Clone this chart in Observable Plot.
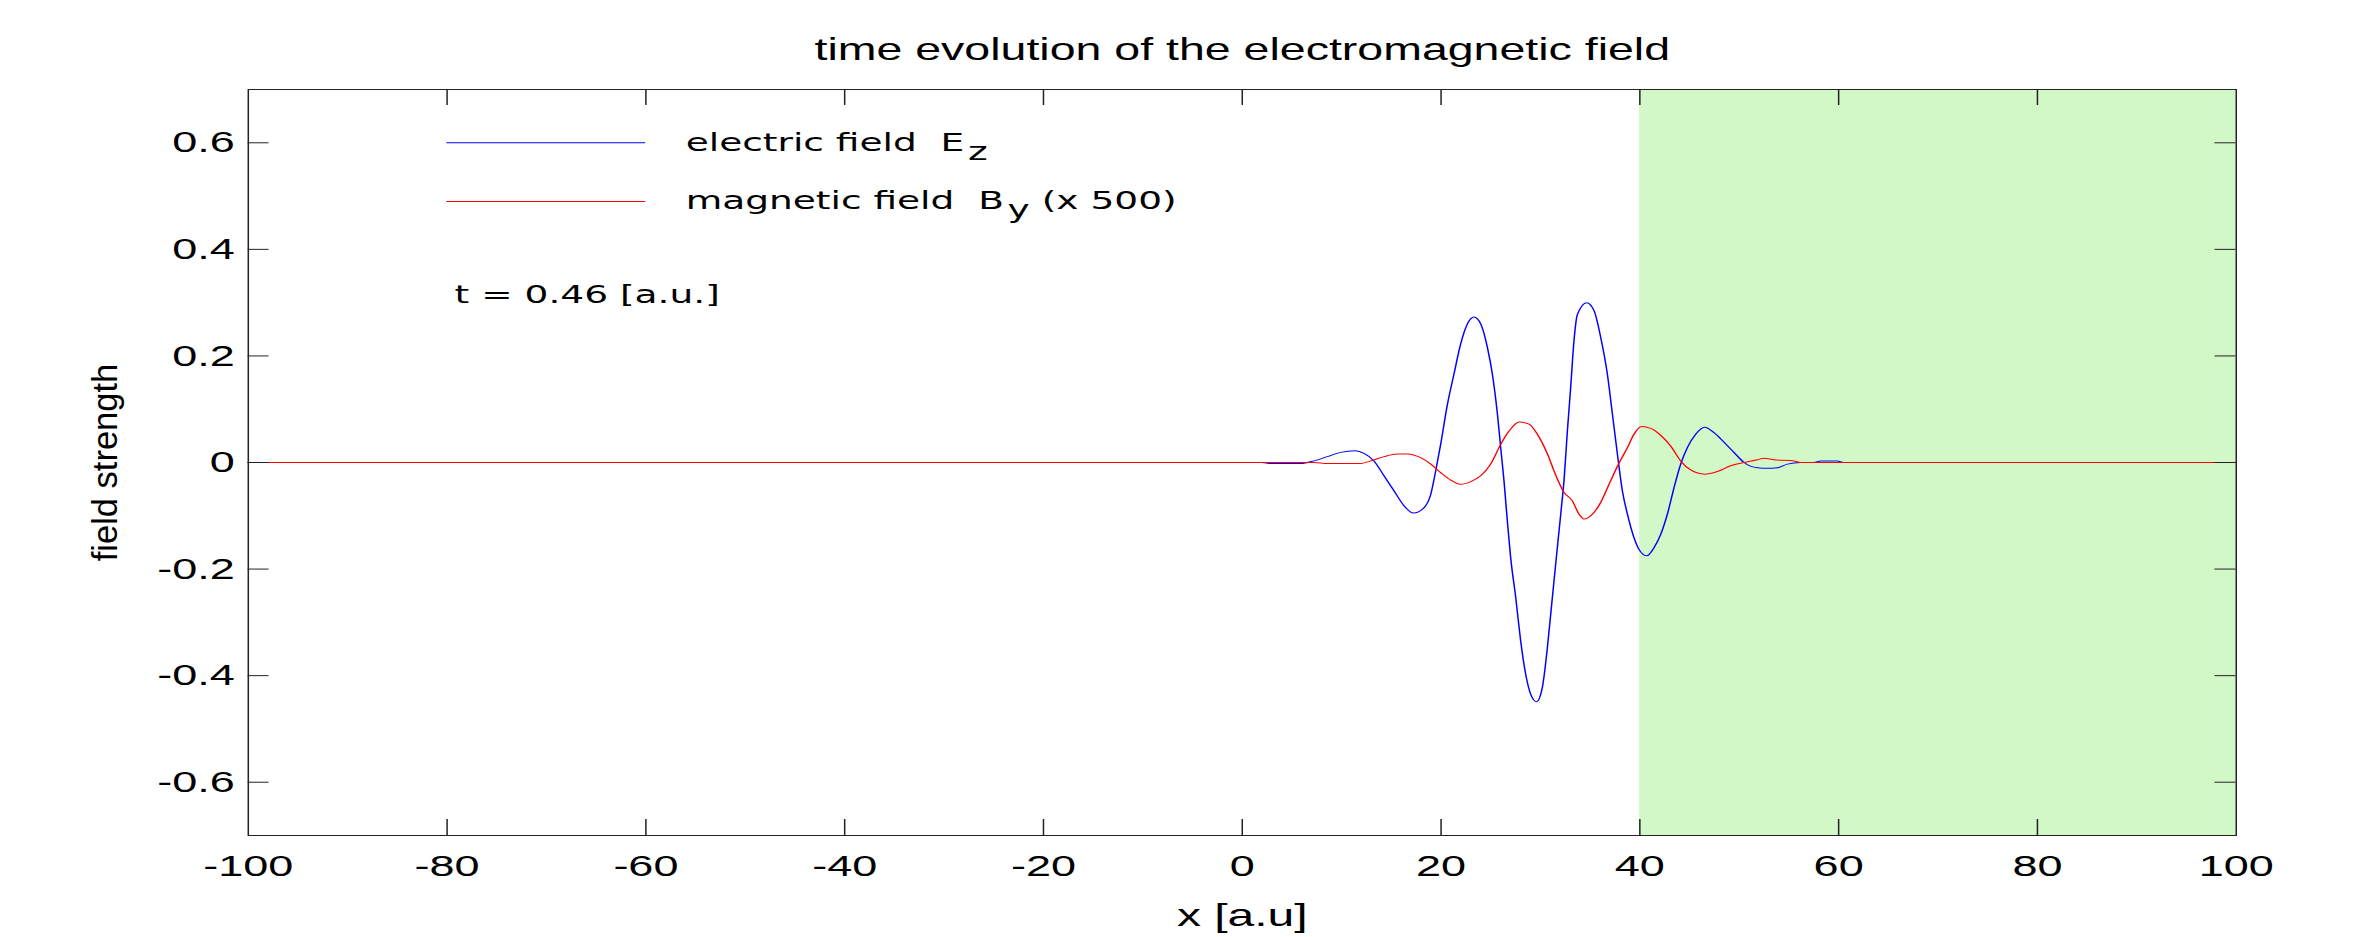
<!DOCTYPE html>
<html>
<head>
<meta charset="utf-8">
<script src="https://cdn.jsdelivr.net/npm/d3@7"></script>
<script src="https://cdn.jsdelivr.net/npm/@observablehq/plot@0.6"></script>
<style>
  html, body { margin: 0; padding: 0; background: #fff; }
  #chart svg { display: block; }
</style>
</head>
<body>
<div id="chart"></div>
<script>
// ---- data ----
const xE = [-100, 2.0, 2.86, 5.88, 7.22, 8.56, 9.90, 11.41, 12.25, 13.25, 14.26, 15.26, 16.27, 17.21, 18.28, 18.96, 19.46, 19.96, 20.64, 21.30, 21.97, 22.65, 23.31, 23.99, 24.66, 25.16, 25.67, 26.00, 26.33, 26.67, 27.00, 27.51, 28.01, 28.51, 29.02, 29.62, 30.19, 30.70, 31.03, 31.53, 32.04, 32.37, 32.71, 33.04, 33.37, 33.72, 34.65, 35.39, 36.06, 36.73, 37.24, 37.74, 38.24, 38.75, 39.41, 39.91, 40.69, 41.42, 42.10, 42.77, 43.44, 44.11, 44.78, 45.62, 46.52, 47.46, 48.47, 49.47, 50.48, 51.83, 52.83, 53.84, 54.84, 56.18, 57.5, 58.2, 59.87, 60.5, 100];
const ez = [0, 0, -0.002, -0.002, 0.003, 0.011, 0.019, 0.022, 0.017, 0.003, -0.025, -0.053, -0.081, -0.095, -0.085, -0.060, -0.016, 0.034, 0.109, 0.166, 0.222, 0.260, 0.273, 0.260, 0.216, 0.166, 0.091, 0.028, -0.034, -0.110, -0.178, -0.253, -0.335, -0.397, -0.435, -0.449, -0.422, -0.347, -0.285, -0.191, -0.097, -0.034, 0.059, 0.141, 0.228, 0.278, 0.300, 0.285, 0.235, 0.166, 0.091, 0.016, -0.053, -0.097, -0.141, -0.163, -0.175, -0.160, -0.135, -0.097, -0.047, -0.003, 0.028, 0.053, 0.066, 0.056, 0.038, 0.019, 0.000, -0.010, -0.011, -0.010, -0.003, 0, 0, 0.003, 0.003, 0, 0];

const xB = [-100, 7.22, 8.56, 11.92, 12.92, 14.26, 15.60, 16.61, 17.95, 18.96, 19.96, 20.97, 21.97, 22.98, 23.99, 24.99, 26.00, 26.84, 27.85, 28.85, 29.69, 30.70, 31.37, 32.37, 33.21, 33.88, 34.38, 35.22, 36.06, 36.90, 37.91, 38.75, 39.41, 40.17, 41.09, 42.10, 43.10, 44.11, 45.11, 46.52, 47.80, 49.14, 50.48, 51.83, 52.49, 53.5, 55.51, 56.18, 100];
const by = [0, 0, -0.002, -0.002, 0.003, 0.011, 0.016, 0.016, 0.009, -0.003, -0.019, -0.033, -0.041, -0.036, -0.025, -0.003, 0.034, 0.059, 0.076, 0.072, 0.053, 0.016, -0.016, -0.056, -0.072, -0.097, -0.106, -0.097, -0.075, -0.041, -0.001, 0.028, 0.053, 0.0675, 0.064, 0.051, 0.031, 0.003, -0.014, -0.022, -0.017, -0.006, 0, 0.005, 0.008, 0.005, 0.003, 0, 0];

const xTicks = [-100, -80, -60, -40, -20, 0, 20, 40, 60, 80, 100];
const yTicks = [-0.6, -0.4, -0.2, 0, 0.2, 0.4, 0.6];
const greenZone = [40, 100];

const titleText = "time evolution of the electromagnetic field";
const xLabel = "x [a.u]";
const yLabel = "field strength";
const timeLabel = "t = 0.46 [a.u.]";
const legendE = "electric field\u00a0\u00a0E";
const legendESub = "z";
const legendB = "magnetic field\u00a0\u00a0B";
const legendBSub = "y";
const legendBAfter = "\u00a0(x 500)";

// ---- layout (the reference is stretched 1.5x horizontally) ----
const W = 2354, H = 937, SX = 1.5;
const w = Math.round(W / SX);
const mL = 165, mR = 79, mT = 89, mB = 102;
const fw = w - mL - mR, fh = H - mT - mB;

const eRows = xE.map((x, i) => ({x, v: ez[i]}));
const bRows = xB.map((x, i) => ({x, v: by[i]}));

const sans = "'Liberation Sans', Arial, Helvetica, sans-serif";
const legendFont = "'DejaVu Sans', Verdana, sans-serif";
const ink = "#222";
const fmt = d => String(d);

const svg = Plot.plot({
  width: w,
  height: H,
  marginLeft: mL, marginRight: mR, marginTop: mT, marginBottom: mB,
  style: {fontFamily: sans, color: "#000", background: "#fff", overflow: "visible"},
  x: {domain: [-100, 100], label: null},
  y: {domain: [-0.7, 0.7], label: null},
  marks: [
    Plot.rect([greenZone], {x1: d => d[0], x2: d => d[1], fill: "#d2f8c8"}),
    Plot.lineY(eRows, {x: "x", y: "v", stroke: "#0000ff", strokeWidth: 1, curve: "monotone-x"}),
    Plot.lineY(bRows, {x: "x", y: "v", stroke: "#ff0000", strokeWidth: 1, curve: "monotone-x"}),
    // legend
    Plot.ruleY([0.6], {x1: -80, x2: -60, stroke: "#0000ff", strokeWidth: 1}),
    Plot.ruleY([0.49], {x1: -80, x2: -60, stroke: "#ff0000", strokeWidth: 1}),
    Plot.text([legendE], {x: -56, y: 0.6, textAnchor: "start", fontSize: 25, fontFamily: legendFont, fill: "#000"}),
    Plot.text([legendB], {x: -56, y: 0.49, textAnchor: "start", fontSize: 25, fontFamily: legendFont, fill: "#000"}),
    Plot.text([timeLabel], {x: -80, y: 0.3, dx: 5, textAnchor: "start", lineAnchor: "bottom", fontSize: 25, fontFamily: legendFont, fill: "#000"}),
    // frame and inward ticks
    Plot.frame({stroke: ink, strokeWidth: 1}),
    Plot.ruleX(xTicks.slice(1, -1), {insetTop: fh - 16, stroke: ink, strokeWidth: 1}),
    Plot.ruleX(xTicks.slice(1, -1), {insetBottom: fh - 16, stroke: ink, strokeWidth: 1}),
    Plot.ruleY(yTicks, {insetRight: fw - 14, stroke: ink, strokeWidth: 1}),
    Plot.ruleY(yTicks, {insetLeft: fw - 14, stroke: ink, strokeWidth: 1}),
    // tick labels
    Plot.axisX(xTicks, {tickSize: 0, tickPadding: 19, fontSize: 30, tickFormat: fmt, label: null, fill: "#000"}),
    Plot.axisY(yTicks, {tickSize: 0, tickPadding: 9, fontSize: 30, tickFormat: fmt, label: null, fill: "#000"}),
    // titles
    Plot.text([titleText], {frameAnchor: "top", textAnchor: "middle", dy: -(mT - 59), lineAnchor: "bottom", fontSize: 31, fontFamily: sans, fill: "#000"}),
    Plot.text([xLabel], {frameAnchor: "bottom", textAnchor: "middle", dy: 90, lineAnchor: "bottom", fontSize: 32, fontFamily: sans, fill: "#000"}),
    Plot.text([yLabel], {frameAnchor: "left", textAnchor: "middle", dx: -95, rotate: -90, fontSize: 23, fontFamily: sans, fill: "#000"})
  ]
});

// subscripts in the legend
function addSub(label, sub, after) {
  d3.select(svg).selectAll("text")
    .filter(function () { return this.textContent === label; })
    .each(function () {
      const t = d3.select(this);
      t.append("tspan").attr("dx", 2.5).attr("dy", 9).text(sub);
      if (after) t.append("tspan").attr("dy", -9).text(after);
    });
}
addSub(legendE, legendESub, null);
addSub(legendB, legendBSub, legendBAfter);

// y label: stretch along its baseline
d3.select(svg).selectAll("text")
  .filter(function () { return this.textContent === yLabel; })
  .each(function () {
    const tr = this.getAttribute("transform") || "";
    this.setAttribute("transform", tr + " scale(1.5,1)");
  });

// stretch whole chart horizontally like the reference
svg.setAttribute("width", W);
svg.setAttribute("height", H);
svg.setAttribute("viewBox", `0 0 ${w} ${H}`);
svg.setAttribute("preserveAspectRatio", "none");
svg.style.width = W + "px";
svg.style.height = H + "px";
svg.style.maxWidth = "none";

document.getElementById("chart").appendChild(svg);
</script>
</body>
</html>
